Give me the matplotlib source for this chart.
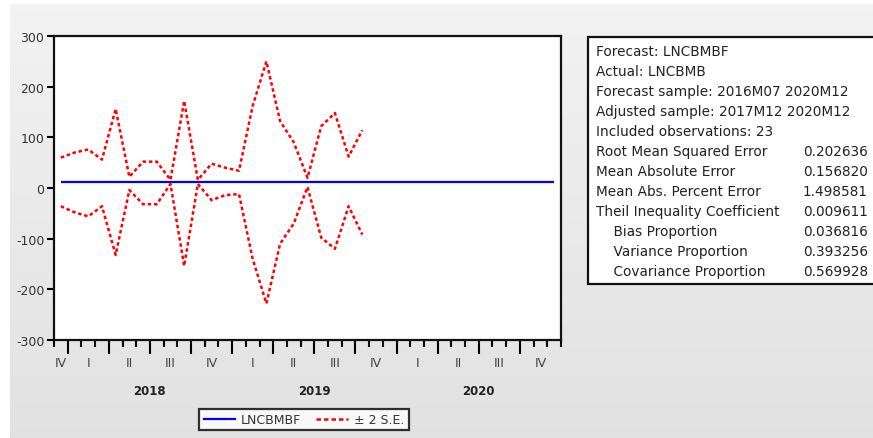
import numpy as np
import pandas as pd
import matplotlib
matplotlib.use("Agg")
from matplotlib import pyplot as plt
from matplotlib.patches import Rectangle
from matplotlib.lines import Line2D

plt.rcParams['font.family'] = ['DejaVu Sans']
plt.rcParams['axes.unicode_minus'] = False

# monthly axis, 2017M12 .. 2020M12
months = pd.period_range('2017-12', '2020-12', freq='M')

# forecast of LNCBMBF (flat over the whole range)
forecast_level = 11.0
forecast = np.full(len(months), forecast_level)

# +/- 2 S.E. band, 23 included observations from 2017M12
upper_band = [60, 70, 76, 56, 156, 22, 52, 52, 16, 172, 16, 48, 40, 34,
              162, 250, 132, 90, 20, 122, 148, 62, 114]
lower_band = [-36, -48, -56, -36, -132, -4, -32, -32, 8, -154, 8, -24, -14, -12,
              -140, -228, -110, -70, 2, -98, -120, -36, -92]

year_labels = ['2018', '2019', '2020']
quarter_names = ['I', 'II', 'III', 'IV']

stats_rows = [
    ('Forecast: LNCBMBF', ''),
    ('Actual: LNCBMB', ''),
    ('Forecast sample: 2016M07 2020M12', ''),
    ('Adjusted sample: 2017M12 2020M12', ''),
    ('Included observations: 23', ''),
    ('Root Mean Squared Error', '0.202636'),
    ('Mean Absolute Error', '0.156820'),
    ('Mean Abs. Percent Error', '1.498581'),
    ('Theil Inequality Coefficient', '0.009611'),
    ('    Bias Proportion', '0.036816'),
    ('    Variance Proportion', '0.393256'),
    ('    Covariance Proportion', '0.569928'),
]

W, H = 873, 439
fig = plt.figure(figsize=(W / 100, H / 100), dpi=100)
fig.patch.set_facecolor('white')

# grey gradient panel behind everything
bg = fig.add_axes([10 / W, 0, 1 - 10 / W, 1 - 5 / H])
grad = np.linspace(0.95, 0.885, 256).reshape(-1, 1)
bg.imshow(np.dstack([grad, grad, grad]), aspect='auto', extent=(0, 1, 0, 1))
bg.set_axis_off()

ax = fig.add_axes([54 / W, 1 - 341 / H, (561 - 54) / W, (341 - 37) / H])
ax.set_facecolor('white')

x_all = np.arange(len(months)) + 0.5
x_band = x_all[:len(upper_band)]

dots = (0, (1.4, 1.1))
ax.plot(x_all, forecast, color='#0000ff', lw=1.6, solid_capstyle='butt')
ax.plot(x_band, upper_band, color='#ff0000', lw=1.8, linestyle=dots)
ax.plot(x_band, lower_band, color='#ff0000', lw=1.8, linestyle=dots)

ax.set_xlim(0, len(months))
ax.set_ylim(-300, 300)
ax.set_yticks([-300, -200, -100, 0, 100, 200, 300])
ax.tick_params(axis='y', direction='out', length=5, width=1.5, labelsize=9,
               labelcolor='#333333', pad=2)

# month ticks, longer at the quarter boundaries
minor = [i for i, m in enumerate(months) if m.month not in (1, 4, 7, 10)] + [len(months)]
major = [i for i, m in enumerate(months) if m.month in (1, 4, 7, 10)]
ax.set_xticks(major)
ax.set_xticks(minor, minor=True)
ax.set_xticklabels([])
ax.tick_params(axis='x', which='major', direction='out', length=10, width=1.5)
ax.tick_params(axis='x', which='minor', direction='out', length=5, width=1.5)

for s in ax.spines.values():
    s.set_linewidth(1.6)
    s.set_color('#111111')

# quarter labels centred in each quarter
q_of = np.array([(m.month - 1) // 3 for m in months])
y_of = np.array([m.year for m in months])
keys = list(dict.fromkeys(zip(y_of, q_of)))
trans = ax.get_xaxis_transform()
for yr, q in keys:
    idx = np.where((y_of == yr) & (q_of == q))[0]
    xc = (idx[0] + idx[-1] + 1) / 2
    ax.text(xc, -0.075, quarter_names[q], transform=trans, ha='center', va='center',
            fontsize=9, color='#444444')

for lab in year_labels:
    idx = np.where(y_of == int(lab))[0]
    xc = (idx[0] + idx[-1] + 1) / 2
    ax.text(xc, -0.165, lab, transform=trans, ha='center', va='center',
            fontsize=8.5, fontweight='bold', color='#222222')

handles = [Line2D([], [], color='#0000ff', lw=1.6),
           Line2D([], [], color='#ff0000', lw=1.8, linestyle=(0, (1.8, 1.2)))]
leg = fig.legend(handles, ['LNCBMBF', '\u00b1 2 S.E.'], loc='center',
                 bbox_to_anchor=(304 / W, 1 - 420.5 / H), ncol=2, fontsize=9,
                 frameon=True, fancybox=False, handlelength=2.5, columnspacing=1.2,
                 borderpad=0.35, handletextpad=0.5)
leg.get_frame().set_edgecolor('black')
leg.get_frame().set_linewidth(1.6)
leg.get_frame().set_facecolor('white')
for t in leg.get_texts():
    t.set_color('#333333')

# statistics box on the right, running off the edge
box_l, box_t, box_b = 588, 38, 285
fig.patches.append(Rectangle((box_l / W, 1 - box_b / H), (W + 10 - box_l) / W,
                             (box_b - box_t) / H, transform=fig.transFigure,
                             facecolor='white', edgecolor='#111111', lw=1.6))
for k, (name, val) in enumerate(stats_rows):
    yy = 1 - (52 + 20 * k) / H
    fig.text(596 / W, yy, name, ha='left', va='center', fontsize=9.8, color='#222222')
    if val:
        fig.text(868 / W, yy, val, ha='right', va='center', fontsize=9.8, color='#222222')

fig.savefig('out.png', dpi=100)
